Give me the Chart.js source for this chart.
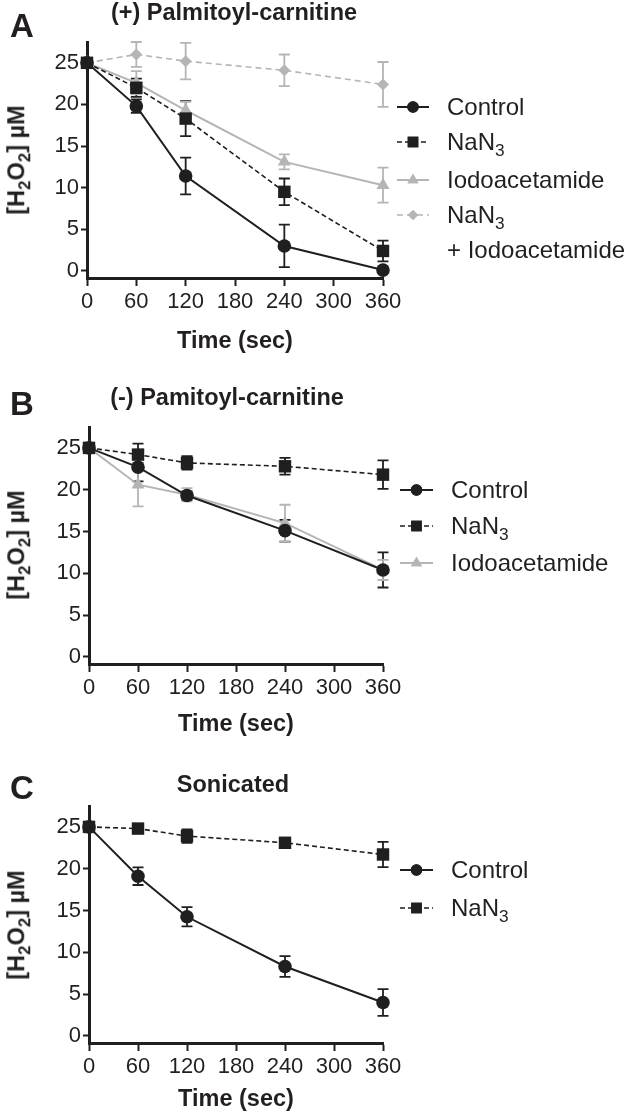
<!DOCTYPE html>
<html>
<head>
<meta charset="utf-8">
<script src="https://cdn.jsdelivr.net/npm/chart.js@4.4.1/dist/chart.umd.min.js"></script>
<style>
  body { margin: 0; background: #fff; }
  #page { position: relative; width: 630px; height: 1119px; overflow: hidden;
          font-family: "Liberation Sans", Arial, sans-serif; color: #231f20; }
  canvas { position: absolute; left: 0; }
  .lbl { position: absolute; white-space: nowrap; line-height: 1; transform: translate(-50%, -50%); }
  .bold { font-weight: bold; font-size: 23.5px; }
  .letter { font-weight: bold; font-size: 33px; }
  .ytitle { transform: translate(-50%, -50%) rotate(-90deg); }
  .leg { position: absolute; white-space: nowrap; line-height: 1; transform: translateY(-50%); font-size: 24px; }
  sub { font-size: 0.72em; vertical-align: -0.35em; line-height: 0; }
</style>
</head>
<body>
<div id="page"></div>
<script>
// ---- data ----
const timePoints = [0, 60, 120, 240, 360];
const xTicks = [0, 60, 120, 180, 240, 300, 360];
const yTicks = [0, 5, 10, 15, 20, 25];

// A: (+) Palmitoyl-carnitine
const aControl = [25, 19.8, 11.4, 3.0, 0.1];
const aControlErr = [0, 0.8, 2.2, 2.55, 0.3];
const aNaN3 = [25, 22.0, 18.3, 9.5, 2.4];
const aNaN3Err = [0, 1.1, 2.1, 1.6, 1.25];
const aIodo = [25, 22.6, 19.3, 13.1, 10.3];
const aIodoErr = [0, 1.4, 1.0, 0.9, 2.1];
const aBoth = [25, 26.0, 25.2, 24.1, 22.4];
const aBothErr = [0, 1.5, 2.2, 1.9, 2.7];

// B: (-) Pamitoyl-carnitine
const bControl = [25, 22.7, 19.3, 15.1, 10.4];
const bControlErr = [0, 1.7, 0.5, 1.3, 2.1];
const bNaN3 = [25, 24.2, 23.2, 22.8, 21.8];
const bNaN3Err = [0, 1.3, 0.8, 1.0, 1.7];
const bIodo = [25, 20.6, 19.4, 16.0, 10.4];
const bIodoErr = [0, 2.6, 0.8, 2.2, 1.2];

// C: Sonicated
const cControl = [25, 19.1, 14.25, 8.3, 4.0];
const cControlErr = [0, 1.05, 1.15, 1.25, 1.6];
const cNaN3 = [25, 24.8, 23.9, 23.1, 21.7];
const cNaN3Err = [0, 0.3, 0.8, 0.3, 1.5];

// ---- styles ----
const BLACK = '#1f1f1f';
const GREY = '#b5b5b5';
const TEXT = '#231f20';
Chart.defaults.font.family = '"Liberation Sans", Arial, sans-serif';

const seriesStyle = {
    control: { color: BLACK, pointStyle: 'circle', radius: 6.8, dash: [], width: 2 },
    nan3: { color: BLACK, pointStyle: 'rect', radius: 8.8, dash: [5, 3], width: 1.6 },
    iodo: { color: GREY, pointStyle: 'triangle', radius: 7.5, dash: [], width: 2 },
    both: { color: GREY, pointStyle: 'rectRot', radius: 6, dash: [6, 4], width: 1.6 }
};

const panels = [
    {
        id: 'A', title: '(+) Palmitoyl-carnitine', top: 0, height: 380,
        area: { left: 87, right: 383, top: 42, bottom: 278 },
        titlePos: [234, 13], letterPos: [22, 25], yTitlePos: [17, 160], xTitleY: 342,
        series: [
            { key: 'control', label: 'Control', values: aControl, err: aControlErr },
            { key: 'nan3', label: 'NaN<sub>3</sub>', values: aNaN3, err: aNaN3Err },
            { key: 'iodo', label: 'Iodoacetamide', values: aIodo, err: aIodoErr },
            { key: 'both', label: 'NaN<sub>3</sub>', values: aBoth, err: aBothErr }
        ],
        legend: { x1: 397, x2: 429, textX: 447, rows: [107, 142, 180, 215] },
        extraLegend: [{ text: '+ Iodoacetamide', y: 250 }]
    },
    {
        id: 'B', title: '(-) Pamitoyl-carnitine', top: 380, height: 380,
        area: { left: 89, right: 383, top: 47, bottom: 284 },
        titlePos: [227, 18], letterPos: [22, 23], yTitlePos: [17, 165], xTitleY: 345,
        series: [
            { key: 'control', label: 'Control', values: bControl, err: bControlErr },
            { key: 'nan3', label: 'NaN<sub>3</sub>', values: bNaN3, err: bNaN3Err },
            { key: 'iodo', label: 'Iodoacetamide', values: bIodo, err: bIodoErr }
        ],
        legend: { x1: 400, x2: 433, textX: 451, rows: [110, 146, 183] },
        extraLegend: []
    },
    {
        id: 'C', title: 'Sonicated', top: 760, height: 359,
        area: { left: 89, right: 383, top: 46, bottom: 283 },
        titlePos: [233, 25], letterPos: [22, 27], yTitlePos: [17, 165], xTitleY: 340,
        series: [
            { key: 'control', label: 'Control', values: cControl, err: cControlErr },
            { key: 'nan3', label: 'NaN<sub>3</sub>', values: cNaN3, err: cNaN3Err }
        ],
        legend: { x1: 400, x2: 433, textX: 451, rows: [110, 148] },
        extraLegend: []
    }
];

// error bars, drawn under the markers
const errorBarPlugin = {
    id: 'errorBars',
    beforeDatasetsDraw(chart) {
        const ctx = chart.ctx;
        const yScale = chart.scales.y;
        chart.data.datasets.forEach((ds, i) => {
            const meta = chart.getDatasetMeta(i);
            ctx.save();
            ctx.strokeStyle = ds.borderColor;
            ctx.lineWidth = 1.8;
            ctx.setLineDash([]);
            ds.errors.forEach((e, j) => {
                if (!e) return;
                const v = ds.data[j].y;
                const x = meta.data[j].x;
                const yHi = yScale.getPixelForValue(v + e);
                const yLo = yScale.getPixelForValue(v - e);
                ctx.beginPath();
                ctx.moveTo(x, yHi); ctx.lineTo(x, yLo);
                ctx.moveTo(x - 5.5, yHi); ctx.lineTo(x + 5.5, yHi);
                ctx.moveTo(x - 5.5, yLo); ctx.lineTo(x + 5.5, yLo);
                ctx.stroke();
            });
            ctx.restore();
        });
    }
};

// legend line + marker symbols
const legendPlugin = {
    id: 'legendSymbols',
    afterDraw(chart) {
        const lg = chart.options.plugins.legendSymbols;
        if (!lg) return;
        const ctx = chart.ctx;
        lg.items.forEach((it) => {
            const st = seriesStyle[it.key];
            ctx.save();
            ctx.strokeStyle = st.color;
            ctx.lineWidth = st.width;
            ctx.setLineDash(st.dash);
            ctx.beginPath();
            ctx.moveTo(lg.x1, it.y); ctx.lineTo(lg.x2, it.y);
            ctx.stroke();
            ctx.setLineDash([]);
            ctx.fillStyle = st.color;
            Chart.helpers.drawPoint(ctx, {
                pointStyle: st.pointStyle, radius: st.radius * 0.85, rotation: 0, borderWidth: 0
            }, (lg.x1 + lg.x2) / 2, it.y);
            ctx.fill();
            ctx.restore();
        });
    }
};

const page = document.getElementById('page');

function addText(html, cls, x, y) {
    const d = document.createElement('div');
    d.className = cls;
    d.innerHTML = html;
    d.style.left = x + 'px';
    d.style.top = y + 'px';
    page.appendChild(d);
}

function makePanel(p) {
    const canvas = document.createElement('canvas');
    canvas.width = 630;
    canvas.height = p.height;
    canvas.style.top = p.top + 'px';
    page.appendChild(canvas);

    addText(p.id, 'lbl letter', p.letterPos[0], p.top + p.letterPos[1]);
    addText(p.title, 'lbl bold', p.titlePos[0], p.top + p.titlePos[1]);
    addText('[H<sub>2</sub>O<sub>2</sub>] µM', 'lbl bold ytitle', p.yTitlePos[0], p.top + p.yTitlePos[1]);
    p.series.forEach((s, i) => {
        addText(s.label, 'leg', p.legend.textX, p.top + p.legend.rows[i]);
    });
    p.extraLegend.forEach((e) => addText(e.text, 'leg', p.legend.textX, p.top + e.y));

    const datasets = p.series.map((s) => {
        const st = seriesStyle[s.key];
        return {
            label: s.label,
            data: timePoints.map((t, j) => ({ x: t, y: s.values[j] })),
            errors: s.err,
            borderColor: st.color,
            backgroundColor: st.color,
            borderWidth: st.width,
            borderDash: st.dash,
            pointStyle: st.pointStyle,
            pointRadius: st.radius,
            pointBorderWidth: 0,
            pointBackgroundColor: st.color,
            tension: 0,
            clip: false
        };
    });

    const xTitleLH = 23.5 * 1.2;
    new Chart(canvas.getContext('2d'), {
        type: 'line',
        data: { datasets: datasets },
        options: {
            responsive: false,
            animation: false,
            devicePixelRatio: 1,
            layout: { padding: { left: 0, top: p.area.top, right: 630 - p.area.right, bottom: 0 } },
            plugins: {
                legend: { display: false },
                tooltip: { enabled: false },
                legendSymbols: {
                    x1: p.legend.x1, x2: p.legend.x2,
                    items: p.series.map((s, i) => ({ key: s.key, y: p.legend.rows[i] }))
                }
            },
            scales: {
                x: {
                    type: 'linear', min: 0, max: 360,
                    afterBuildTicks: (ax) => { ax.ticks = xTicks.map((v) => ({ value: v })); },
                    afterFit: (s) => { s.height = p.height - p.area.bottom; },
                    grid: { drawOnChartArea: false, drawTicks: true, tickLength: 8, tickWidth: 2, tickColor: BLACK },
                    border: { display: true, width: 3, color: BLACK },
                    ticks: { color: TEXT, font: { size: 22 }, padding: 3, maxRotation: 0, autoSkip: false },
                    title: {
                        display: true, text: 'Time (sec)', color: TEXT,
                        font: { size: 23.5, weight: 'bold' },
                        padding: { top: 0, bottom: p.height - p.xTitleY - xTitleLH / 2 }
                    }
                },
                y: {
                    type: 'linear', min: -0.85, max: 27.5,
                    afterBuildTicks: (ax) => { ax.ticks = yTicks.map((v) => ({ value: v })); },
                    afterFit: (s) => { s.width = p.area.left; },
                    grid: { drawOnChartArea: false, drawTicks: true, tickLength: 6, tickWidth: 2, tickColor: BLACK },
                    border: { display: true, width: 3, color: BLACK },
                    ticks: { color: TEXT, font: { size: 22 }, padding: 2 }
                }
            }
        },
        plugins: [errorBarPlugin, legendPlugin]
    });
}

panels.forEach(makePanel);
</script>
</body>
</html>
